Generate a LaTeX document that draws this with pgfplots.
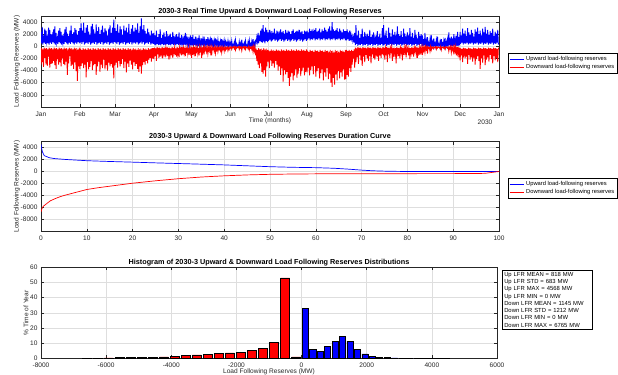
\documentclass[border=0pt]{standalone}
\usepackage{pgfplots}
\pgfplotsset{compat=1.18}
\usepackage{pgfplotstable}
\usepackage{fontspec}
\setmainfont{Liberation Sans}
\definecolor{axgray}{rgb}{0.15,0.15,0.15}
\definecolor{gridgray}{rgb}{0.87,0.87,0.87}
\definecolor{lblue}{rgb}{0,0,1}
\definecolor{lred}{rgb}{1,0,0}
\pgfplotsset{
  matax/.style={
    scale only axis,
    axis line style={axgray, line width=0.5bp},
    tick style={axgray, line width=0.5bp},
    major tick length=3bp,
    tick align=inside,
    grid=major,
    major grid style={gridgray, line width=0.5bp},
    ticklabel style={font=\fontsize{6.6}{7}\selectfont, text=axgray},
    xticklabel style={yshift=-1bp},
    /pgf/number format/assume math mode=true,
    /pgf/number format/1000 sep={},
    scaled ticks=false,
    title style={font=\bfseries\fontsize{7.3}{8}\selectfont, at={(0.5,1)}, anchor=south, inner sep=1.5bp, yshift=-6.5bp},
    label style={font=\fontsize{6.6}{7}\selectfont, text=axgray},
    legend style={draw=black, line width=0.5bp, fill=white,
      font=\fontsize{5.8}{6.4}\selectfont, inner sep=1bp, row sep=-1.8bp,
      cells={anchor=west}},
    legend cell align=left,
    legend image code/.code={\draw[#1, line width=0.9bp] (0bp,0bp) -- (14bp,0bp);},
  }
}
\pgfplotstableread{
t u d
0 2400 -3100
1 500 -300
2 3200 -2600
3 300 -500
4 1800 -3400
5 600 -200
6 2900 -1900
7 400 -400
8 2600 -3000
9 700 -300
10 1400 -3200
11 500 -500
12 3100 -1700
13 300 -200
14 2700 -3500
15 600 -400
16 2000 -2900
17 400 -300
18 1600 -2800
19 700 -500
20 2800 -2400
21 500 -200
22 3300 -3100
23 300 -400
24 2200 -3700
25 600 -300
26 1300 -2100
27 400 -500
28 2600 -3000
29 700 -200
30 3000 -2600
31 500 -400
32 2400 -3300
33 300 -300
34 1800 -2000
35 600 -500
36 1500 -2900
37 400 -200
38 2800 -3100
39 700 -400
40 3200 -2500
41 500 -300
42 2100 -4700
43 300 -500
44 1700 -2800
45 600 -200
46 2600 -1600
47 400 -400
48 3400 -3200
49 700 -300
50 2000 -3000
51 500 -500
52 2300 -3700
53 300 -200
54 3000 -2600
55 600 -400
56 2700 -4100
57 400 -300
58 1900 -5700
59 700 -500
60 2500 -3300
61 500 -200
62 3000 -3700
63 600 -400
64 3800 -3200
65 400 -600
66 2600 -2800
67 700 -300
68 3900 -3600
69 300 -500
70 2200 -3000
71 500 -400
72 3100 -5100
73 600 -600
74 3500 -2600
75 400 -300
76 2400 -3800
77 700 -500
78 1900 -3400
79 300 -400
80 3300 -2400
81 500 -600
82 3700 -3900
83 600 -300
84 2800 -3100
85 400 -500
86 2100 -2900
87 700 -400
88 3600 -4700
89 300 -600
90 2500 -3300
91 500 -300
92 3200 -2500
93 600 -500
94 2000 -4200
95 400 -400
96 2700 -3000
97 700 -600
98 3400 -3600
99 300 -300
100 2300 -2200
101 500 -500
102 3000 -3800
103 600 -400
104 2600 -3100
105 400 -600
106 1800 -4000
107 700 -300
108 2900 -2700
109 300 -500
110 3500 -3300
111 500 -400
112 2200 -2900
113 600 -600
114 3100 -3500
115 400 -300
116 4400 -5300
117 700 -500
118 3000 -3100
119 600 -400
120 2500 -2700
121 400 -600
122 3600 -3500
123 700 -300
124 2200 -2400
125 300 -500
126 3300 -3300
127 500 -400
128 2800 -2900
129 600 -600
130 1900 -2100
131 400 -300
132 3400 -3600
133 700 -500
134 2600 -2500
135 300 -400
136 3100 -4300
137 500 -600
138 2300 -2800
139 600 -300
140 3700 -3400
141 400 -500
142 2000 -2300
143 700 -400
144 2900 -3000
145 300 -600
146 3500 -3800
147 500 -300
148 2400 -2600
149 600 -500
150 3100 -3200
151 400 -400
152 2700 -2900
153 700 -600
154 3800 -3700
155 300 -300
156 2200 -4200
157 500 -500
158 3300 -3300
159 600 -400
160 4600 -4500
161 400 -600
162 2800 -3100
163 700 -300
164 3500 -2600
165 300 -500
166 2500 -3000
167 500 -400
168 2100 -2400
169 600 -600
170 2900 -2800
171 400 -300
172 2300 -2200
173 700 -500
174 1800 -1900
175 300 -400
176 2600 -2500
177 500 -300
178 2100 -2000
179 400 -300
180 2200 -2100
181 300 -200
182 1800 -1600
183 150 -350
184 2600 -2400
185 400 -150
186 1500 -1300
187 200 -250
188 2000 -1900
189 300 -200
190 2800 -1700
191 150 -350
192 1400 -1200
193 400 -150
194 1900 -2000
195 200 -250
196 2300 -1500
197 300 -200
198 1600 -1800
199 150 -350
200 2500 -1100
201 400 -150
202 1300 -1600
203 200 -250
204 1800 -2200
205 300 -200
206 2100 -1300
207 150 -350
208 1500 -1500
209 400 -150
210 2400 -1900
211 200 -250
212 1700 -1000
213 300 -200
214 1200 -1400
215 150 -350
216 2000 -1700
217 400 -150
218 1600 -1200
219 200 -250
220 2300 -1800
221 300 -200
222 1400 -900
223 150 -350
224 1900 -1500
225 400 -150
226 1100 -1300
227 200 -250
228 1700 -1100
229 300 -200
230 2200 -1600
231 150 -350
232 1300 -800
233 400 -150
234 1600 -1200
235 200 -250
236 1000 -1400
237 300 -200
238 1800 -1000
239 150 -350
240 1500 -1900
241 150 -150
242 1900 -1400
243 50 -250
244 1200 -1100
245 200 -100
246 1600 -1600
247 100 -200
248 1000 -800
249 150 -150
250 1400 -1200
251 50 -250
252 1800 -1500
253 200 -100
254 900 -700
255 100 -200
256 1300 -1900
257 150 -150
258 1100 -1000
259 50 -250
260 1600 -1300
261 200 -100
262 800 -600
263 100 -200
264 1200 -900
265 150 -150
266 1500 -1200
267 50 -250
268 900 -700
269 200 -100
270 1100 -1000
271 100 -200
272 1400 -1500
273 150 -150
274 700 -500
275 50 -250
276 1000 -800
277 200 -100
278 1300 -1100
279 100 -200
280 800 -600
281 150 -150
282 1100 -900
283 50 -250
284 600 -500
285 200 -100
286 900 -700
287 100 -200
288 1200 -1000
289 150 -150
290 700 -500
291 50 -250
292 1000 -800
293 200 -100
294 800 -600
295 100 -200
296 600 -400
297 150 -150
298 900 -700
299 50 -250
300 700 -500
301 200 -100
302 600 -300
303 50 -100
304 900 -500
305 0 -150
306 300 -200
307 100 -50
308 700 -400
309 0 -100
310 1000 -600
311 50 -100
312 400 -300
313 0 -150
314 200 -200
315 100 -50
316 800 -500
317 0 -100
318 500 -300
319 50 -100
320 1100 -700
321 0 -150
322 300 -200
323 100 -50
324 600 -400
325 0 -100
326 900 -500
327 50 -100
328 200 -200
329 0 -150
330 700 -400
331 100 -50
332 1000 -600
333 0 -100
334 400 -300
335 50 -100
336 800 -500
337 0 -150
338 1200 -900
339 100 -50
340 600 -700
341 0 -100
342 900 -1500
343 600 -400
344 1500 -2400
345 800 -600
346 2200 -3000
347 500 -300
348 1800 -3600
349 900 -500
350 2600 -2800
351 700 -400
352 2900 -4200
353 600 -600
354 3500 -4500
355 800 -300
356 2400 -3900
357 500 -500
358 3100 -5000
359 900 -400
360 2700 -3300
361 700 -600
362 2300 -2500
363 900 -600
364 2700 -3600
365 1100 -800
366 2000 -2300
367 800 -500
368 2500 -3200
369 1000 -700
370 2200 -2800
371 1200 -600
372 2900 -3500
373 900 -800
374 2100 -2400
375 1100 -500
376 2600 -3000
377 800 -700
378 2400 -4000
379 1000 -600
380 2000 -3300
381 1200 -800
382 2800 -4700
383 900 -500
384 2300 -3600
385 1100 -700
386 2500 -5800
387 800 -600
388 2100 -3900
389 1000 -800
390 2700 -4600
391 1200 -500
392 2200 -4200
393 900 -700
394 2600 -5200
395 1100 -600
396 2400 -6500
397 800 -800
398 2000 -5000
399 1000 -500
400 2500 -4400
401 1200 -700
402 2800 -5600
403 900 -600
404 2200 -4800
405 1100 -800
406 2400 -3800
407 800 -500
408 2600 -5200
409 1000 -700
410 2100 -4500
411 1200 -600
412 2700 -3600
413 900 -800
414 2300 -4900
415 1100 -500
416 2500 -4100
417 800 -700
418 2000 -3500
419 1000 -600
420 2600 -4800
421 1200 -800
422 2400 -4200
423 900 -500
424 2600 -4300
425 1100 -700
426 2300 -3500
427 1300 -900
428 2900 -4800
429 1000 -600
430 2500 -3900
431 1200 -800
432 2800 -3300
433 1100 -700
434 2200 -4600
435 1300 -900
436 2700 -3200
437 1000 -600
438 3000 -5000
439 1200 -800
440 2400 -4100
441 1100 -700
442 2600 -3600
443 1300 -900
444 2900 -5300
445 1000 -600
446 2300 -4400
447 1200 -800
448 2800 -3800
449 1100 -700
450 2500 -5600
451 1300 -900
452 3100 -4300
453 1000 -600
454 2700 -5000
455 1200 -800
456 2400 -3600
457 1100 -700
458 2900 -5400
459 1300 -900
460 3300 -4500
461 1000 -600
462 2600 -6000
463 1200 -800
464 4000 -6700
465 1100 -700
466 2800 -5200
467 1300 -900
468 2500 -6300
469 1000 -600
470 2700 -4600
471 1200 -800
472 3000 -5600
473 1100 -700
474 2400 -4100
475 1300 -900
476 2900 -5300
477 1000 -600
478 2600 -4300
479 1200 -800
480 2300 -5000
481 1100 -700
482 2800 -3800
483 1300 -900
484 2500 -5500
485 1000 -600
486 2500 -5400
487 1000 -600
488 2800 -4700
489 1200 -800
490 2300 -5000
491 900 -600
492 2600 -3600
493 1000 -800
494 2000 -4200
495 1200 -600
496 1700 -3000
497 900 -800
498 1500 -2000
499 600 -500
500 2200 -3500
501 200 -200
502 3500 -2600
503 400 -350
504 1800 -1800
505 100 -150
506 2600 -2900
507 300 -250
508 1400 -1500
509 200 -200
510 2000 -2300
511 400 -350
512 2900 -3200
513 100 -150
514 1600 -1700
515 300 -250
516 2400 -2600
517 200 -200
518 1300 -1400
519 400 -350
520 2100 -2000
521 100 -150
522 1700 -2400
523 300 -250
524 2700 -1600
525 200 -200
526 1500 -2800
527 400 -350
528 1900 -1300
529 100 -150
530 2300 -1900
531 300 -250
532 1200 -2200
533 200 -200
534 1800 -1200
535 400 -350
536 2500 -1700
537 100 -150
538 1600 -2400
539 300 -250
540 2100 -1500
541 200 -200
542 1400 -1900
543 400 -350
544 3000 -1300
545 100 -150
546 3500 -1500
547 200 -200
548 1800 -2200
549 400 -300
550 2600 -1000
551 100 -150
552 1400 -2600
553 300 -250
554 3100 -1300
555 200 -200
556 2200 -1900
557 400 -300
558 1600 -800
559 100 -150
560 2800 -2400
561 300 -250
562 1900 -1200
563 200 -200
564 2400 -1700
565 400 -300
566 1300 -2800
567 100 -150
568 3300 -1100
569 300 -250
570 2000 -1600
571 200 -200
572 1700 -2000
573 400 -300
574 2500 -900
575 100 -150
576 1500 -2300
577 300 -250
578 2900 -1400
579 200 -200
580 2100 -1000
581 400 -300
582 1200 -1800
583 100 -150
584 2300 -700
585 300 -250
586 1800 -1500
587 200 -200
588 3000 -2100
589 400 -300
590 1600 -1100
591 100 -150
592 2200 -1300
593 300 -250
594 1400 -1700
595 200 -200
596 2700 -800
597 400 -300
598 1900 -1200
599 100 -150
600 1300 -1900
601 300 -250
602 2400 -1000
603 200 -200
604 1700 -1400
605 400 -300
606 2000 -900
607 100 -150
608 1800 -1400
609 50 -100
610 1200 -700
611 150 -200
612 2200 -1000
613 0 -50
614 900 -500
615 100 -150
616 1500 -1200
617 50 -100
618 600 -300
619 150 -200
620 1100 -800
621 0 -50
622 1900 -600
623 100 -150
624 700 -300
625 50 -100
626 1300 -400
627 150 -200
628 500 -200
629 0 -50
630 1000 -500
631 100 -150
632 1600 -300
633 50 -100
634 400 -200
635 150 -200
636 800 -400
637 0 -50
638 1200 -600
639 100 -150
640 500 -200
641 50 -100
642 900 -300
643 150 -200
644 1400 -500
645 0 -50
646 700 -200
647 100 -150
648 1100 -300
649 50 -100
650 2300 -800
651 150 -200
652 900 -400
653 0 -50
654 1600 -1000
655 100 -150
656 1300 -600
657 50 -100
658 2000 -1300
659 150 -200
660 1100 -800
661 0 -50
662 1700 -1500
663 100 -150
664 2400 -1100
665 50 -100
666 1500 -1800
667 150 -200
668 2400 -2300
669 400 -300
670 1800 -1500
671 600 -450
672 2900 -2600
673 300 -200
674 2100 -1200
675 500 -350
676 2600 -2000
677 400 -300
678 1700 -1700
679 600 -450
680 3000 -2900
681 300 -200
682 2300 -1400
683 500 -350
684 1900 -2200
685 400 -300
686 2700 -1800
687 600 -450
688 2200 -2500
689 300 -200
690 1600 -1300
691 500 -350
692 2800 -3000
693 400 -300
694 2400 -2100
695 600 -450
696 3100 -1600
697 300 -200
698 2000 -2400
699 500 -350
700 2600 -3700
701 400 -300
702 1800 -2000
703 600 -450
704 2900 -2700
705 300 -200
706 2300 -1500
707 500 -350
708 3200 -3100
709 400 -300
710 2100 -2200
711 600 -450
712 2700 -1800
713 300 -200
714 1900 -2500
715 500 -350
716 2500 -1400
717 400 -300
718 2200 -2100
719 600 -450
720 2900 -2800
721 300 -200
722 1700 -1600
723 500 -350
724 2400 -2300
725 400 -300
726 2100 -1900
727 600 -450
728 2700 -2600
729 300 -200
}\rtdata
\begin{document}
\begin{tikzpicture}
\path[use as bounding box] (0,0) rectangle (618bp,-375bp);
% ---------- top: real time ----------
\begin{axis}[matax, at={(41bp,-16bp)}, anchor=north west,
  width=458bp, height=91bp,
  xmin=0, xmax=730, ymin=-10000, ymax=5000,
  xtick={0,62,118,180,240,302,362,424,486,546,608,668,730},
  xticklabels={Jan,Feb,Mar,Apr,May,Jun,Jul,Aug,Sep,Oct,Nov,Dec,Jan},
  ytick={-8000,-6000,-4000,-2000,0,2000,4000},
  title={2030-3 Real Time Upward \& Downward Load Following Reserves},
  ylabel={Load Following Reserves (MW)},
  ylabel style={at={(axis description cs:-0.0524,0.5)}, anchor=center},
  legend style={at={(1.0197,0.593)}, anchor=north west},
]
\addlegendimage{draw=lblue, line width=0.9bp}
\addlegendentry{Upward load-following reserves}
\addlegendimage{draw=lred, line width=0.9bp}
\addlegendentry{Downward load-following reserves}
\addplot[draw=lblue, line width=0.9bp, forget plot] table[x=t, y=u]{\rtdata};
\addplot[draw=lred, line width=0.9bp, forget plot] table[x=t, y=d]{\rtdata};
\end{axis}
\node[font=\fontsize{6.6}{7}\selectfont, text=axgray] at (270bp,-121bp) {Time (months)};
\node[font=\fontsize{6.6}{7}\selectfont, text=axgray] at (485bp,-122bp) {2030};
% ---------- middle: duration curve ----------
\begin{axis}[matax, at={(41bp,-141.5bp)}, anchor=north west,
  width=458bp, height=90bp,
  xmin=0, xmax=100, ymin=-10000, ymax=5000,
  xtick={0,10,...,100},
  ytick={-8000,-6000,-4000,-2000,0,2000,4000},
  title={2030-3 Upward \& Downward Load Following Reserves Duration Curve},
  ylabel={Load Following Reserves (MW)},
  ylabel style={at={(axis description cs:-0.0524,0.5)}, anchor=center},
  legend style={at={(1.0197,0.594)}, anchor=north west},
]
\addplot[blue, line width=0.7bp] coordinates {
(0,4568) (0.1,4000) (0.3,3300) (0.7,2650) (1.8,2300) (3,2150) (5.5,2000)
(10,1800) (15,1670) (20,1560) (25,1440) (30,1330) (35,1220) (40,1100)
(45,950) (50,800) (55,700) (60,640) (64,540) (67,400) (70,230) (72.5,120)
(75,60) (78,20) (80,5) (85,0) (100,0)};
\addlegendentry{Upward load-following reserves}
\addplot[red, line width=0.7bp] coordinates {
(0,-6765) (0.2,-6200) (0.5,-5800) (1,-5500) (2,-4900) (3,-4550) (4,-4250)
(5,-4000) (7,-3600) (10,-3000) (12.5,-2700) (15,-2450) (20,-1950) (25,-1550)
(30,-1200) (35,-920) (40,-720) (45,-570) (50,-470) (55,-420) (60,-390)
(70,-370) (80,-360) (90,-350) (95,-345) (97,-300) (98,-200) (99,-100) (100,0)};
\addlegendentry{Downward load-following reserves}
\end{axis}
% ---------- bottom: histogram ----------
\begin{axis}[matax, at={(41bp,-267.3bp)}, anchor=north west,
  width=456bp, height=91bp,
  xmin=-8000, xmax=6000, ymin=0, ymax=60,
  xtick={-8000,-6000,...,6000},
  ytick={0,10,...,60},
  title={Histogram of 2030-3 Upward \& Downward Load Following Reserves Distributions},
  xlabel={Load Following Reserves (MW)},
  ylabel={\% Time of Year},
  xlabel style={at={(axis description cs:0.5,-0.15)}, anchor=center},
  ylabel style={at={(axis description cs:-0.0329,0.5)}, anchor=center},
]
\addplot[ybar, bar shift=0pt, bar width=275, fill=red, draw=black, line width=0.5bp] coordinates {
(-169.1,1.0) (-507.4,53.0) (-845.6,10.3) (-1183.9,6.3) (-1522.1,5.1)
(-1860.4,4.0) (-2198.6,3.6) (-2536.9,3.4) (-2875.1,2.7) (-3213.4,2.2)
(-3551.6,1.8) (-3889.9,1.3) (-4228.1,0.9) (-4566.4,0.7) (-4904.6,0.6)
(-5242.9,0.5) (-5581.1,0.4) (-5919.4,0.3) (-6257.6,0.2) (-6595.9,0.1)};
\addplot[ybar, bar shift=0pt, bar width=186, fill=blue, draw=black, line width=0.5bp] coordinates {
(114.2,32.7) (342.6,5.8) (571.0,4.6) (799.4,7.7) (1027.8,11.1)
(1256.2,14.4) (1484.6,11.1) (1713.0,5.8) (1941.4,2.9) (2169.8,1.3)
(2398.2,0.8) (2626.6,0.5) (2855.0,0.3) (3083.4,0.2) (3311.8,0.1)
(3540.2,0.1) (3768.6,0.1) (3997.0,0.05) (4225.4,0.05) (4453.8,0.02)};
\end{axis}
\node[draw=black, line width=0.5bp, fill=white, anchor=north west, align=left,
  font=\fontsize{5.9}{7.3}\selectfont, inner xsep=2bp, inner ysep=2bp, text width=86bp]
  at (502bp,-270bp) {Up LFR MEAN = 818 MW\\Up LFR STD = 683 MW\\Up LFR MAX = 4568 MW\\Up LFR MIN = 0 MW\\Down LFR MEAN = 1145 MW\\Down LFR STD = 1212 MW\\Down LFR MIN = 0 MW\\Down LFR MAX = 6765 MW};
\end{tikzpicture}
\end{document}
